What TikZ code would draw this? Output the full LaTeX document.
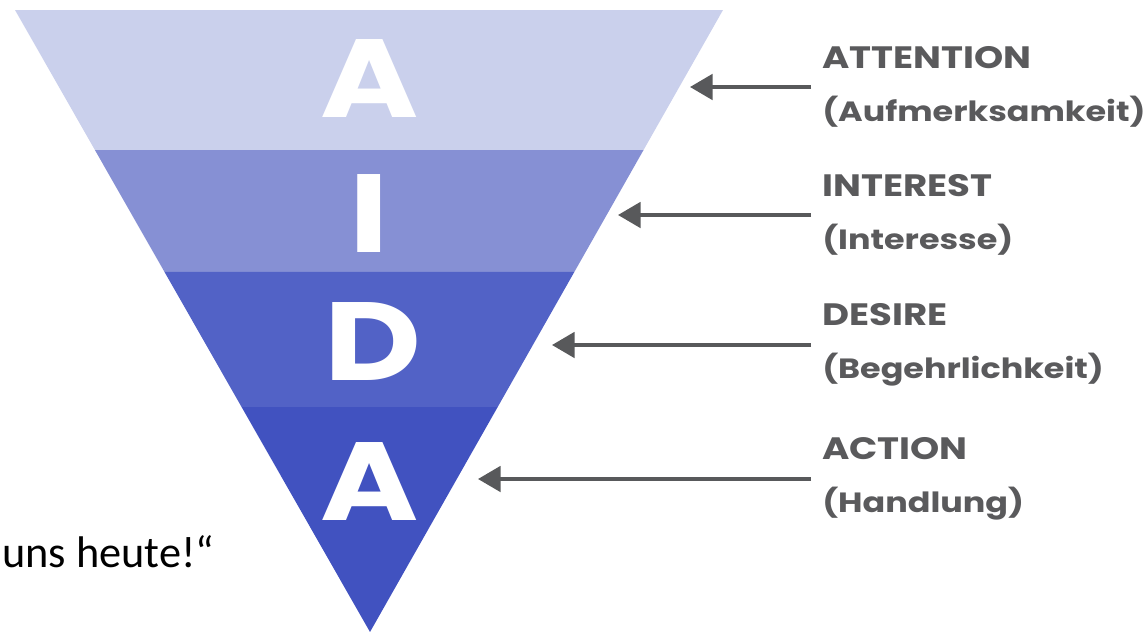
\documentclass[tikz,border=0pt]{standalone}
\usepackage{fontspec}
\setmainfont{Carlito}
\newfontfamily\aidafont[FakeStretch=1.2]{Poppins}
\usetikzlibrary{arrows.meta,calc}

\definecolor{bandA}{HTML}{CAD0EC}
\definecolor{bandI}{HTML}{8690D4}
\definecolor{bandD}{HTML}{5262C6}
\definecolor{bandC}{HTML}{4152C0}
\definecolor{arrowgray}{HTML}{58595B}
\definecolor{textgray}{HTML}{5A5A5C}

% German name under each stage, a bit smaller
\newcommand{\stagesub}[1]{{\fontsize{19.8}{38}\selectfont(#1)}}

\begin{document}
\begin{tikzpicture}[x=0.025cm, y=-0.025cm,
    letter/.style={text=white, inner sep=0, font=\aidafont\bfseries\fontsize{79}{79}\selectfont},
    stage/.style={anchor=west, inner sep=0, outer sep=8pt, align=left, text=textgray,
        font=\aidafont\bfseries\fontsize{22}{38}\selectfont},
    pointer/.style={draw=arrowgray, line width=2.6pt, -{Triangle[length=16pt,width=18pt]}}]
    \useasboundingbox (0,0) rectangle (1146,632);

    % Funnel corners
    \coordinate (tl) at (15,10);
    \coordinate (tr) at (723,10);
    \coordinate (tip) at (370,632);

    % Four bands of the funnel
    \fill[bandA] (tl) -- (tr) -- ($(tr)!0.2251!(tip)$) -- ($(tl)!0.2251!(tip)$) -- cycle;
    \fill[bandI] ($(tl)!0.2251!(tip)$) -- ($(tr)!0.2251!(tip)$) -- ($(tr)!0.4212!(tip)$) -- ($(tl)!0.4212!(tip)$) -- cycle;
    \fill[bandD] ($(tl)!0.4212!(tip)$) -- ($(tr)!0.4212!(tip)$) -- ($(tr)!0.6383!(tip)$) -- ($(tl)!0.6383!(tip)$) -- cycle;
    \fill[bandC] ($(tl)!0.6383!(tip)$) -- ($(tr)!0.6383!(tip)$) -- (tip) -- cycle;

    % Letters
    \node[letter] (lA) at (370,79) {A};
    \node[letter] (lI) at (369,214) {I};
    \node[letter] (lD) at (373,342) {D};
    \node[letter] (lC) at (370,482) {A};

    % Arrow tips next to the funnel edge
    \coordinate (tA) at (690,87);
    \coordinate (tI) at (618,215);
    \coordinate (tD) at (552,345);
    \coordinate (tC) at (478,479);

    % Stage names
    \node[stage] (attn) at (811,87) {ATTENTION\\\stagesub{Aufmerksamkeit}};
    \node[stage] (intr) at (811,215) {INTEREST\\\stagesub{Interesse}};
    \node[stage] (desr) at (811,345) {DESIRE\\\stagesub{Begehrlichkeit}};
    \node[stage] (actn) at (811,479) {ACTION\\\stagesub{Handlung}};

    \draw[pointer] (attn.west) -- (tA);
    \draw[pointer] (intr.west) -- (tI);
    \draw[pointer] (desr.west) -- (tD);
    \draw[pointer] (actn.west) -- (tC);

    % Slogan on the left
    \node[anchor=base west, inner sep=0, font=\fontsize{31.5}{38}\selectfont] (slogan) at (2,567) {uns heute!“};
\end{tikzpicture}
\end{document}
